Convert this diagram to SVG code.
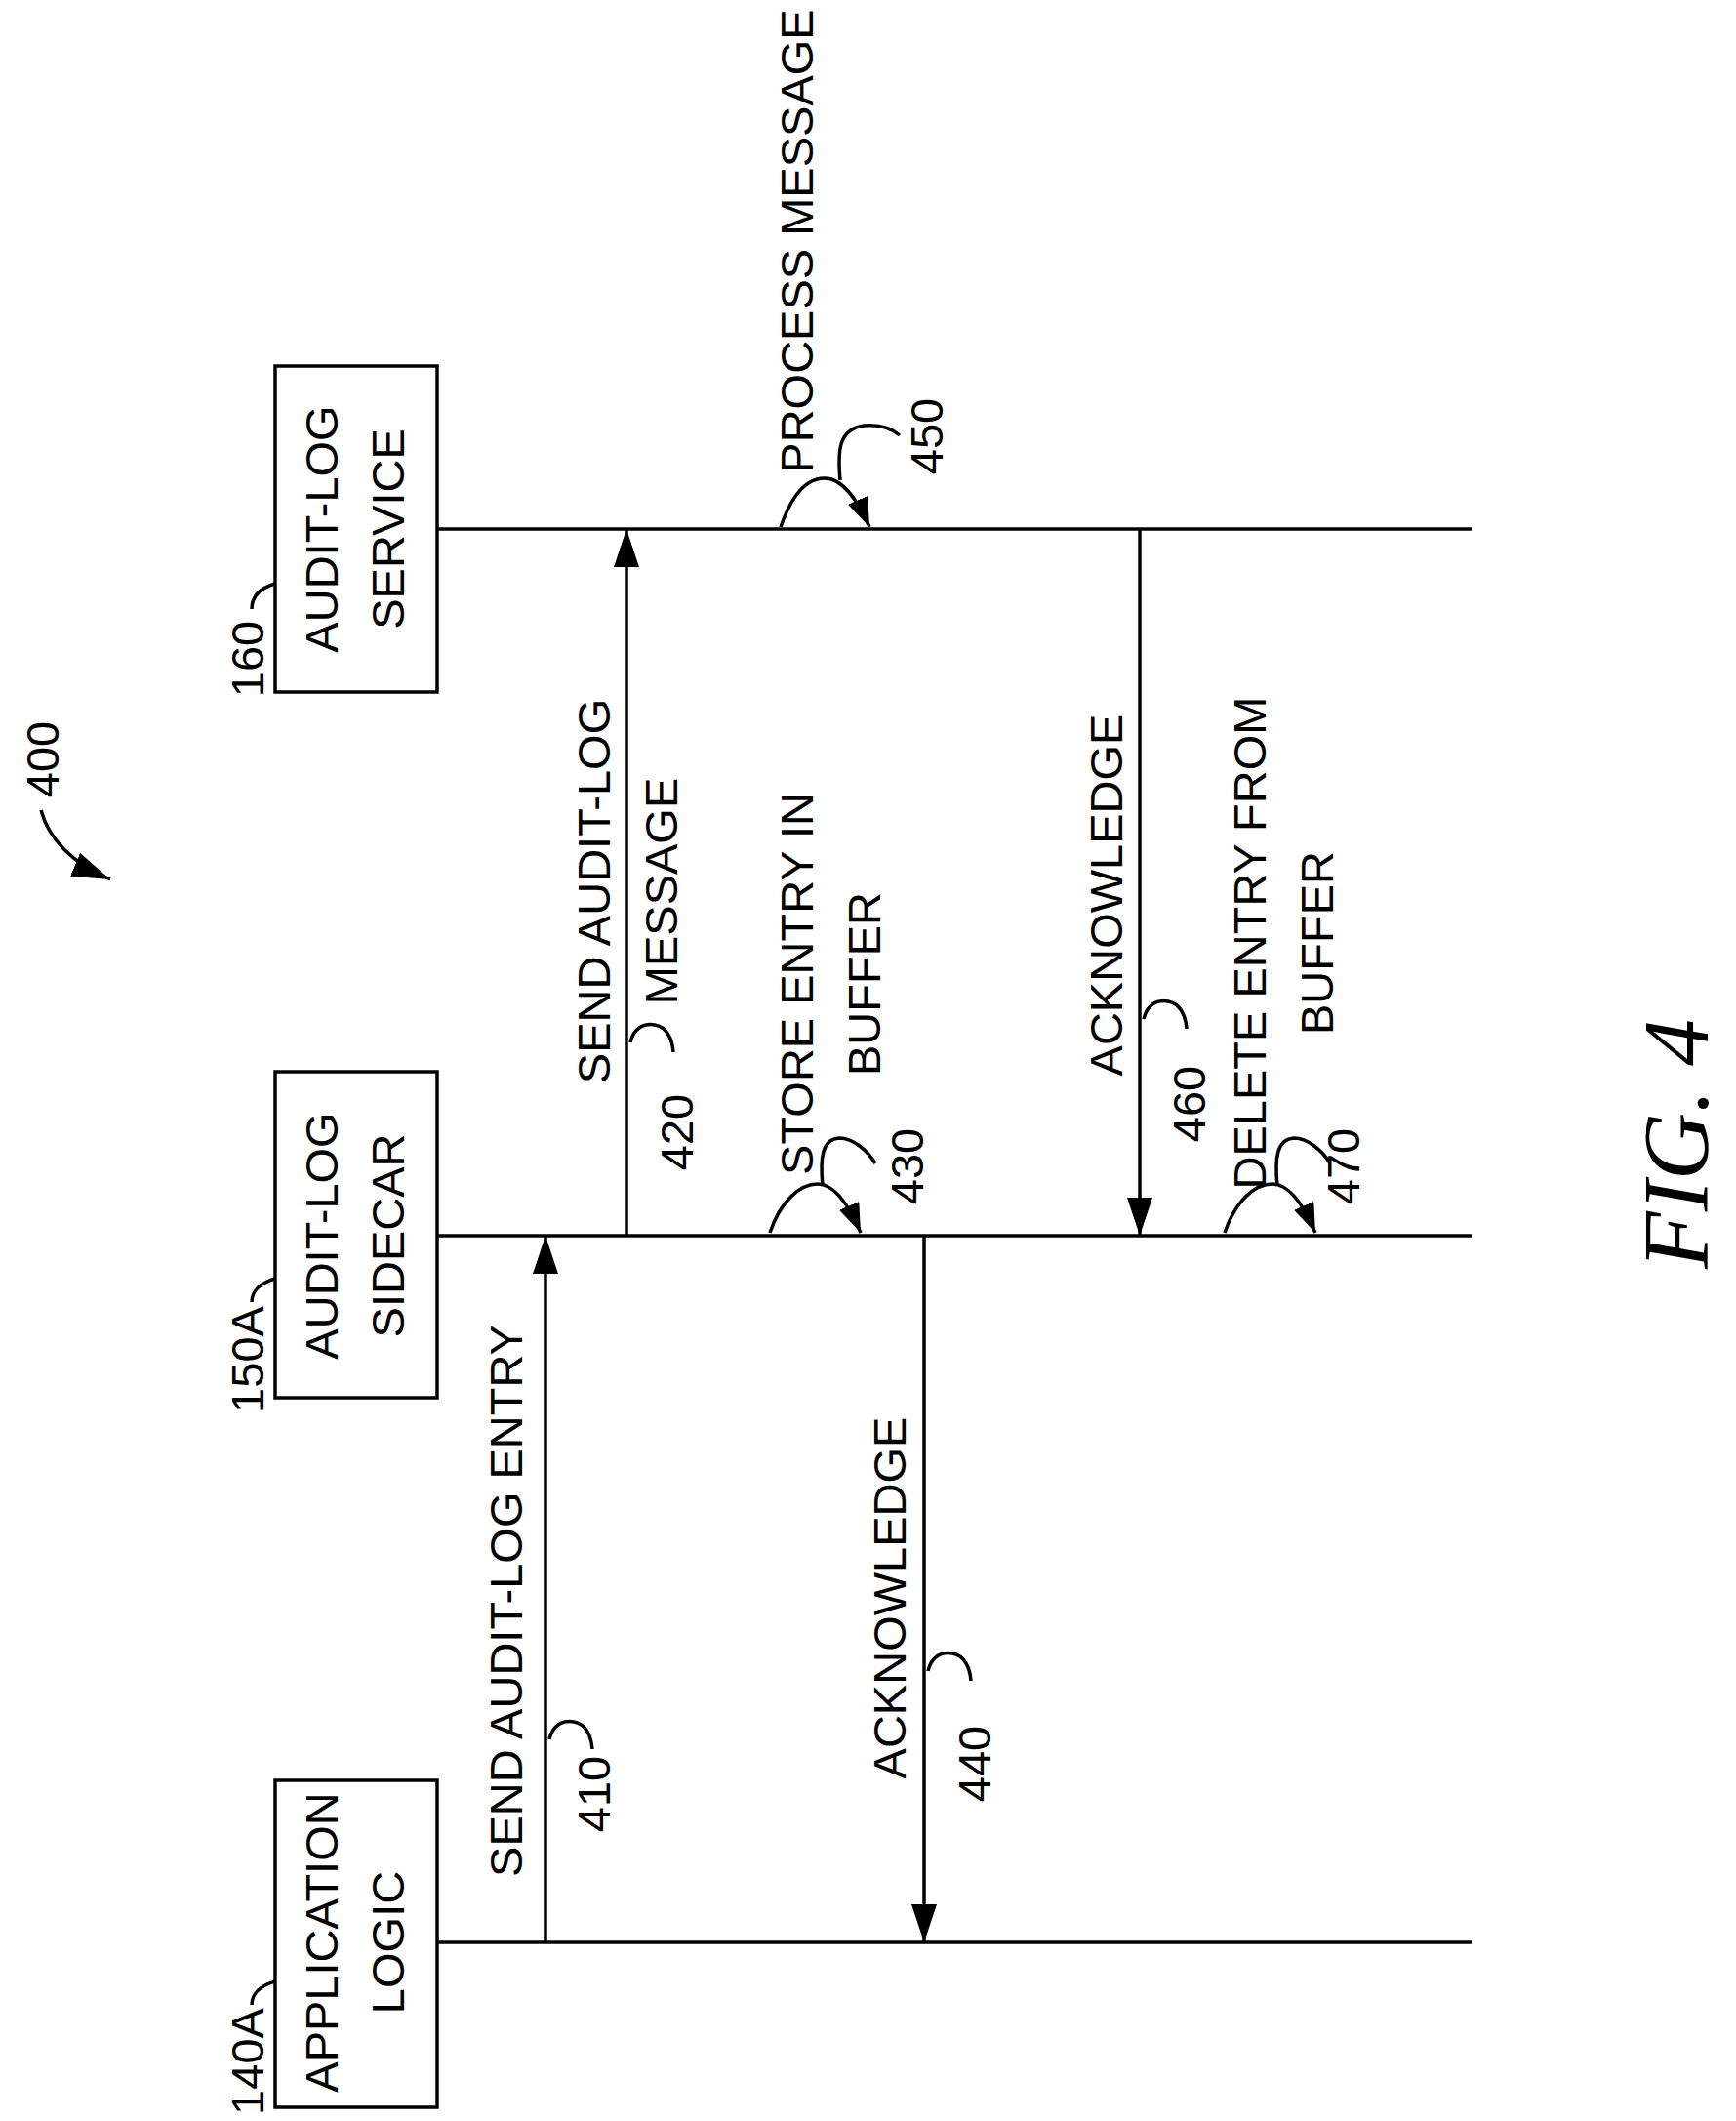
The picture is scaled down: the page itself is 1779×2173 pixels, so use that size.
<svg xmlns="http://www.w3.org/2000/svg" width="1779" height="2173" viewBox="0 0 1779 2173">
<defs>
<marker id="big" markerUnits="userSpaceOnUse" markerWidth="40" markerHeight="28" refX="39" refY="13" orient="auto"><path class="head" d="M0,0 L39,13 L0,26 Z"/></marker>
<marker id="sm" markerUnits="userSpaceOnUse" markerWidth="32" markerHeight="24" refX="30" refY="11" orient="auto"><path class="head" d="M0,0 L30,11 L0,22 Z"/></marker>
</defs>
<style>
text{font-family:"Liberation Sans",Arial,sans-serif;font-size:47px;fill:#000;text-anchor:middle}
.fig{font-family:"Liberation Serif","Times New Roman",serif;font-style:italic;font-size:96px}
.ln{stroke:#000;stroke-width:3.5;fill:none}
.head{fill:#000;stroke:none}
</style>
<rect width="1779" height="2173" fill="#fff"/>
<g id="fig-label"><text class="fig" transform="translate(1750,1172) rotate(-90)">FIG. 4</text></g>
<g id="ref-400"><text transform="translate(60,778) rotate(-90)">400</text><path class="ln" d="M42,830 C50,860 75,885 113,901" marker-end="url(#big)"/></g>
<g id="node-160">
<rect class="ln" x="282" y="375" width="166" height="334"/>
<text transform="translate(346,542) rotate(-90)">AUDIT-LOG</text>
<text transform="translate(414,542) rotate(-90)">SERVICE</text>
<text transform="translate(270,675) rotate(-90)">160</text>
<path class="ln" d="M258,624 C258,610 268,602 282,598"/>
</g>
<g id="node-150A">
<rect class="ln" x="282" y="1098" width="166" height="334"/>
<text transform="translate(346,1266) rotate(-90)">AUDIT-LOG</text>
<text transform="translate(414,1266) rotate(-90)">SIDECAR</text>
<text transform="translate(270,1393) rotate(-90)">150A</text>
<path class="ln" d="M258,1334 C258,1322 268,1314 282,1310"/>
</g>
<g id="node-140A">
<rect class="ln" x="282" y="1824" width="166" height="335"/>
<text transform="translate(346,1990) rotate(-90)">APPLICATION</text>
<text transform="translate(414,1990) rotate(-90)">LOGIC</text>
<text transform="translate(270,2112) rotate(-90)">140A</text>
<path class="ln" d="M258,2054 C258,2042 268,2034 282,2030"/>
</g>
<g id="connectors">
<line class="ln" x1="448" y1="542" x2="1508" y2="542"/>
<line class="ln" x1="448" y1="1266" x2="1508" y2="1266"/>
<line class="ln" x1="448" y1="1990" x2="1508" y2="1990"/>
<line class="ln" x1="559" y1="1990" x2="559" y2="1266" marker-end="url(#big)"/>
<line class="ln" x1="642" y1="1266" x2="642" y2="542" marker-end="url(#big)"/>
<line class="ln" x1="947" y1="1266" x2="947" y2="1990" marker-end="url(#big)"/>
<line class="ln" x1="1168" y1="542" x2="1168" y2="1266" marker-end="url(#big)"/>
<path class="ln" d="M800,540 C812,505 828,490 845,490 C862,490 878,510 891,540" marker-end="url(#sm)"/>
<path class="ln" d="M861,492 C858,460 860,440 885,436 C905,434 915,440 922,446"/>
<path class="ln" d="M789,1263 C800,1230 820,1213 838,1213 C855,1213 870,1235 882,1263" marker-end="url(#sm)"/>
<path class="ln" d="M843,1215 C840,1185 843,1167 860,1166 C875,1166 890,1180 897,1192"/>
<path class="ln" d="M1255,1263 C1266,1230 1286,1213 1304,1213 C1321,1213 1336,1235 1348,1263" marker-end="url(#sm)"/>
<path class="ln" d="M1309,1215 C1306,1185 1309,1167 1326,1166 C1341,1166 1356,1180 1363,1192"/>
<path class="ln" d="M563,1782 C566,1768 576,1762 588,1764 C600,1766 606,1778 607,1792"/>
<path class="ln" d="M646,1068 C649,1054 659,1048 671,1050 C683,1052 689,1064 690,1078"/>
<path class="ln" d="M951,1712 C954,1698 964,1692 976,1694 C988,1696 994,1708 995,1722"/>
<path class="ln" d="M1172,1044 C1175,1030 1185,1024 1197,1026 C1209,1028 1215,1040 1216,1054"/>
</g>
<g id="label-410"><text transform="translate(535,1640) rotate(-90)">SEND AUDIT-LOG ENTRY</text><text transform="translate(625,1838) rotate(-90)">410</text></g>
<g id="label-420"><text transform="translate(625,913) rotate(-90)">SEND AUDIT-LOG</text><text transform="translate(694,913) rotate(-90)">MESSAGE</text><text transform="translate(710,1160) rotate(-90)">420</text></g>
<g id="label-430"><text transform="translate(833,1008) rotate(-90)">STORE ENTRY IN</text><text transform="translate(902,1008) rotate(-90)">BUFFER</text><text transform="translate(946,1195) rotate(-90)">430</text></g>
<g id="label-440"><text transform="translate(928,1637) rotate(-90)">ACKNOWLEDGE</text><text transform="translate(1015,1807) rotate(-90)">440</text></g>
<g id="label-450"><text transform="translate(833,247) rotate(-90)">PROCESS MESSAGE</text><text transform="translate(966,447) rotate(-90)">450</text></g>
<g id="label-460"><text transform="translate(1150,917) rotate(-90)">ACKNOWLEDGE</text><text transform="translate(1235,1131) rotate(-90)">460</text></g>
<g id="label-470"><text transform="translate(1297,966) rotate(-90)">DELETE ENTRY FROM</text><text transform="translate(1366,966) rotate(-90)">BUFFER</text><text transform="translate(1393,1195) rotate(-90)">470</text></g>
</svg>
